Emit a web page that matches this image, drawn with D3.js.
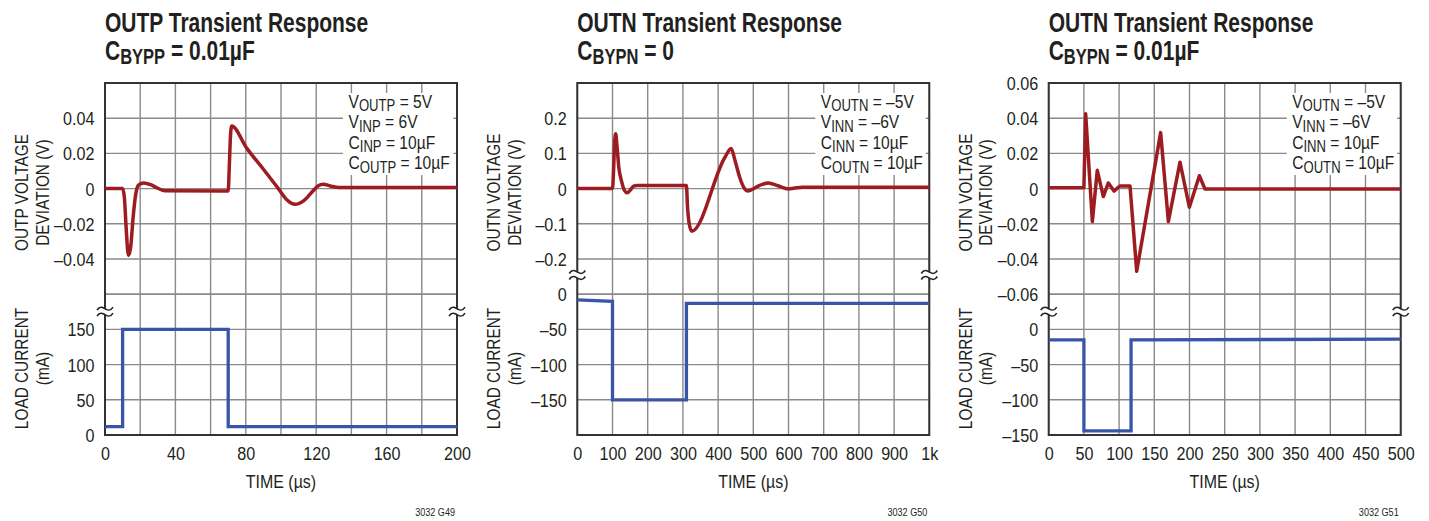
<!DOCTYPE html>
<html>
<head>
<meta charset="utf-8">
<script src="https://cdn.jsdelivr.net/npm/d3@7"></script>
<style>
  body { margin: 0; background: #fff; }
  svg text { font-family: "Liberation Sans", Arial, Helvetica, sans-serif; fill: #231f20; }
</style>
</head>
<body>
<svg id="chart" width="1429" height="521"></svg>
<script>
// ---------- OUTP transient response, C_BYPP = 0.01µF ----------
const outpTime      = [0, 10, 11, 12, 13.3, 14.6, 16, 17.5, 19, 22, 26, 30, 34, 70, 70.6, 71.3, 72, 80.5, 90, 98.5, 103, 108, 113, 118, 121, 124, 128, 133, 200];
const outpDeviation = [0, 0, -0.005, -0.022, -0.038, -0.033, -0.016, -0.003, 0.002, 0.0032, 0.0022, 0.0002, -0.0012, -0.0013, 0.012, 0.03, 0.0356, 0.023, 0.011, 0, -0.006, -0.0089, -0.0068, -0.0015, 0.0015, 0.0025, 0.0015, 0.0006, 0.0006];
const outpLoadTime    = [0, 10, 10, 70, 70, 200];
const outpLoadCurrent = [12, 12, 150, 150, 12, 12];
const outpTimeTicks      = [0, 40, 80, 120, 160, 200];
const outpDeviationTicks = [-0.04, -0.02, 0, 0.02, 0.04];
const outpCurrentTicks   = [0, 50, 100, 150];

// ---------- OUTN transient response, C_BYPN = 0 ----------
const outnTime      = [0, 100, 103, 106, 109, 112, 118, 126, 134, 142, 150, 160, 170, 310, 313, 318, 325, 420, 437, 448, 462, 475, 483, 495, 515, 543, 570, 600, 615, 640, 1000];
const outnDeviation = [0, 0, 0.05, 0.13, 0.156, 0.13, 0.06, 0.02, -0.005, -0.012, -0.005, 0.007, 0.009, 0.009, -0.05, -0.1, -0.121, 0.09, 0.1136, 0.08, 0.03, 0, -0.007, -0.003, 0.008, 0.016, 0.008, -0.001, 0.001, 0.004, 0.004];
const outnLoadTime    = [0, 100, 100, 310, 310, 1000];
const outnLoadCurrent = [-8, -10, -150, -150, -13, -13];
const outnTimeTicks      = [0, 100, 200, 300, 400, 500, 600, 700, 800, 900, 1000];
const outnDeviationTicks = [-0.2, -0.1, 0, 0.1, 0.2];
const outnCurrentTicks   = [0, -50, -100, -150];

// ---------- OUTN transient response, C_BYPN = 0.01µF ----------
const outnBypTime      = [0, 50, 52.5, 62, 69, 77.6, 84.7, 92.8, 101, 115.5, 125, 159, 170, 186.5, 199.8, 214, 222, 500];
const outnBypDeviation = [0.0005, 0.0005, 0.0425, -0.0187, 0.0104, -0.0045, 0.0032, -0.0014, 0.0015, 0.0015, -0.047, 0.0318, -0.0187, 0.015, -0.0106, 0.0073, -0.0002, -0.0002];
const outnBypLoadTime    = [0, 50, 50, 117, 117, 500];
const outnBypLoadCurrent = [-15, -15, -144, -144, -15, -13.8];
const outnBypTimeTicks      = [0, 50, 100, 150, 200, 250, 300, 350, 400, 450, 500];
const outnBypDeviationTicks = [-0.06, -0.04, -0.02, 0, 0.02, 0.04, 0.06];
const outnBypCurrentTicks   = [0, -50, -100, -150];

// ---------- text ----------
const titleLines  = ["OUTP Transient Response", "OUTN Transient Response", "OUTN Transient Response"];
const titleSubs   = [["C", "BYPP", " = 0.01µF"], ["C", "BYPN", " = 0"], ["C", "BYPN", " = 0.01µF"]];
const voltageLabels = [["OUTP VOLTAGE", "DEVIATION (V)"], ["OUTN VOLTAGE", "DEVIATION (V)"], ["OUTN VOLTAGE", "DEVIATION (V)"]];
const currentLabel = ["LOAD CURRENT", "(mA)"];
const timeLabel = "TIME (µs)";
const conditionsP = [["V", "OUTP", " = 5V"], ["V", "INP", " = 6V"], ["C", "INP", " = 10µF"], ["C", "OUTP", " = 10µF"]];
const conditionsN = [["V", "OUTN", " = –5V"], ["V", "INN", " = –6V"], ["C", "INN", " = 10µF"], ["C", "OUTN", " = 10µF"]];
const figureCodes = ["3032 G49", "3032 G50", "3032 G51"];

const RED = "#9d1c22", BLUE = "#3a55a7", GRID = "#8a8a8a", FRAME = "#333";
const SIZE = 352, TOP = 83;
const SX = 0.85;          // horizontal squeeze that gives the condensed face
const SX_TITLE = 0.75;

const dash = s => s.replace("-", "–");

const panels = [
  { left: 105, tMax: 200, tGrid: 20, vDomain: [-0.06, 0.06], vStep: 0.02, iDomain: [0, 200],
    time: outpTime, dev: outpDeviation, loadTime: outpLoadTime, load: outpLoadCurrent,
    tTicks: outpTimeTicks, vTicks: outpDeviationTicks, iTicks: outpCurrentTicks,
    vFmt: v => v === 0 ? "0" : dash(v.toFixed(2)), tFmt: t => String(t),
    curve: d3.curveMonotoneX, breakY: 311.7, conditions: conditionsP },
  { left: 577.3, tMax: 1000, tGrid: 100, vDomain: [-0.3, 0.3], vStep: 0.1, iDomain: [-200, 0],
    time: outnTime, dev: outnDeviation, loadTime: outnLoadTime, load: outnLoadCurrent,
    tTicks: outnTimeTicks, vTicks: outnDeviationTicks, iTicks: outnCurrentTicks,
    vFmt: v => v === 0 ? "0" : dash(v.toFixed(1)), tFmt: t => t === 1000 ? "1k" : String(t),
    curve: d3.curveMonotoneX, breakY: 275, conditions: conditionsN },
  { left: 1048.7, tMax: 500, tGrid: 50, vDomain: [-0.06, 0.06], vStep: 0.02, iDomain: [-150, 50],
    time: outnBypTime, dev: outnBypDeviation, loadTime: outnBypLoadTime, load: outnBypLoadCurrent,
    tTicks: outnBypTimeTicks, vTicks: outnBypDeviationTicks, iTicks: outnBypCurrentTicks,
    vFmt: v => v === 0 ? "0" : dash(v.toFixed(2)), tFmt: t => String(t),
    curve: d3.curveLinear, breakY: 311.7, conditions: conditionsN }
];

const svg = d3.select("#chart");

// text placed at (x, y), squeezed horizontally, optionally rotated
function label(parent, x, y, size, opts = {}) {
  const rot = opts.rotate ? ` rotate(${opts.rotate})` : "";
  return parent.append("g")
    .attr("transform", `translate(${x},${y})${rot} scale(${opts.sx || SX},1)`)
    .append("text")
    .attr("font-size", size)
    .attr("text-anchor", opts.anchor || "start")
    .attr("font-weight", opts.weight || null);
}

function drawBreak(g, xc, yc) {
  g.append("rect").attr("x", xc - 3).attr("y", yc - 3).attr("width", 6).attr("height", 6).attr("fill", "#fff");
  [-3, 3].forEach(dy => {
    g.append("path")
      .attr("d", `M${xc - 8},${yc + dy + 1.5} C${xc - 5},${yc + dy - 3.5} ${xc - 2},${yc + dy - 1} ${xc},${yc + dy} S${xc + 5},${yc + dy + 3.5} ${xc + 8},${yc + dy - 1.5}`)
      .attr("fill", "none").attr("stroke", "#222").attr("stroke-width", 1.6);
  });
}

panels.forEach((p, i) => {
  const g = svg.append("g");
  const left = p.left, right = left + SIZE, bottom = TOP + SIZE;
  const split = TOP + SIZE * 0.6;

  const x  = d3.scaleLinear().domain([0, p.tMax]).range([left, right]);
  const yV = d3.scaleLinear().domain(p.vDomain).range([split, TOP]);
  const yI = d3.scaleLinear().domain(p.iDomain).range([bottom, split]);

  // grid
  const grid = g.append("g").attr("stroke", GRID).attr("stroke-width", 1.4);
  d3.range(0, p.tMax + 1e-9, p.tGrid).forEach(t => {
    grid.append("line").attr("x1", x(t)).attr("x2", x(t)).attr("y1", TOP).attr("y2", bottom);
  });
  const rows = d3.range(p.vDomain[0], p.vDomain[1] + p.vStep / 2, p.vStep).map(v => yV(v))
    .concat(d3.range(p.iDomain[0], p.iDomain[1] + 1, 50).map(c => yI(c)));
  rows.forEach(y => grid.append("line").attr("x1", left).attr("x2", right).attr("y1", y).attr("y2", y));

  // conditions box
  g.append("rect").attr("x", right - 114).attr("y", 93).attr("width", 110.5).attr("height", 82).attr("fill", "#fff");

  // frame
  g.append("rect").attr("x", left).attr("y", TOP).attr("width", SIZE).attr("height", SIZE)
    .attr("fill", "none").attr("stroke", FRAME).attr("stroke-width", 2);

  // load current
  g.append("path")
    .datum(p.loadTime.map((t, k) => [t, p.load[k]]))
    .attr("d", d3.line().x(d => x(d[0])).y(d => yI(d[1])))
    .attr("fill", "none").attr("stroke", BLUE).attr("stroke-width", 3.3).attr("stroke-linejoin", "miter");

  // voltage deviation
  g.append("path")
    .datum(p.time.map((t, k) => [t, p.dev[k]]))
    .attr("d", d3.line().curve(p.curve).x(d => x(d[0])).y(d => yV(d[1])))
    .attr("fill", "none").attr("stroke", RED).attr("stroke-width", 3.5).attr("stroke-linejoin", "round");

  // axis breaks
  drawBreak(g, left, p.breakY);
  drawBreak(g, right, p.breakY);

  // axes (labels only)
  const styleLeft = sel => {
    sel.select(".domain").remove();
    sel.selectAll("text").attr("font-size", 19).attr("x", -10.5 / SX).attr("dy", "0.34em")
      .attr("transform", `scale(${SX},1)`);
  };
  const styleBottom = sel => {
    sel.select(".domain").remove();
    sel.selectAll("text").attr("font-size", 19).attr("transform", `scale(${SX},1)`);
  };
  g.append("g").attr("transform", `translate(${left},0)`)
    .call(d3.axisLeft(yV).tickValues(p.vTicks).tickSize(0).tickFormat(p.vFmt)).call(styleLeft);
  g.append("g").attr("transform", `translate(${left},0)`)
    .call(d3.axisLeft(yI).tickValues(p.iTicks).tickSize(0).tickFormat(c => dash(String(c)))).call(styleLeft);
  g.append("g").attr("transform", `translate(0,${bottom})`)
    .call(d3.axisBottom(x).tickValues(p.tTicks).tickSize(0).tickPadding(11.5).tickFormat(p.tFmt)).call(styleBottom);

  // titles
  label(g, left, 31.5, 28, { weight: "bold", sx: SX_TITLE }).text(titleLines[i]);
  const t2 = label(g, left, 60, 28, { weight: "bold", sx: SX_TITLE });
  t2.append("tspan").text(titleSubs[i][0]);
  t2.append("tspan").attr("font-size", 22).attr("dy", 4).text(titleSubs[i][1]);
  t2.append("tspan").attr("dy", -4).text(titleSubs[i][2]);

  // conditions
  p.conditions.forEach((c, k) => {
    const t = label(g, right - 108.5, 107.8 + k * 20.5, 19, { sx: 0.82 });
    t.append("tspan").text(c[0]);
    t.append("tspan").attr("font-size", 16).attr("dy", 3.5).text(c[1]);
    t.append("tspan").attr("dy", -3.5).text(c[2]);
  });

  // axis titles
  const yTitle = (lines, yc) => {
    lines.forEach((s, k) => {
      label(g, left - 77 + k * 20.5, yc, 19, { rotate: -90, anchor: "middle", sx: 0.81 }).text(s);
    });
  };
  yTitle(voltageLabels[i], 192.5);
  yTitle(currentLabel, 368.5);
  label(g, (left + right) / 2, 488, 19, { anchor: "middle", sx: 0.84 }).text(timeLabel);

  label(g, right - 2, 515.5, 10.2, { anchor: "end", sx: 0.89 }).text(figureCodes[i]);
});
</script>
</body>
</html>
